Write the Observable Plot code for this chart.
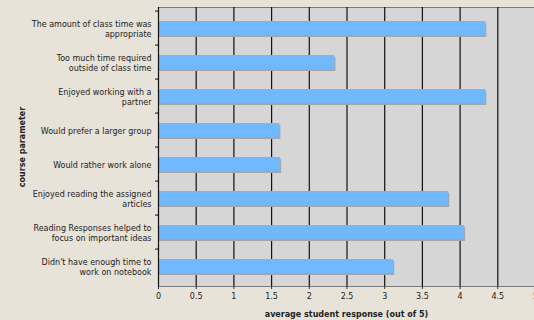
<!DOCTYPE html>
<html><head><meta charset="utf-8">
<script src="https://cdn.jsdelivr.net/npm/d3@7"></script>
<script src="https://cdn.jsdelivr.net/npm/@observablehq/plot@0.6"></script>
<style>html,body{margin:0;padding:0;background:#e8e3d9;overflow:hidden}#chart svg{display:block}</style>
</head><body><div id="chart"></div>
<script>
const categories = [
  "The amount of class time was\nappropriate",
  "Too much time required\noutside of class time",
  "Enjoyed working with a\npartner",
  "Would prefer a larger group",
  "Would rather work alone",
  "Enjoyed reading the assigned\narticles",
  "Reading Responses helped to\nfocus on important ideas",
  "Didn't have enough time to\nwork on notebook"
];
const values = [4.34, 2.34, 4.34, 1.61, 1.62, 3.85, 4.06, 3.12];
const xTicks = [0, 0.5, 1, 1.5, 2, 2.5, 3, 3.5, 4, 4.5, 5];
const xLabel = "average student response (out of 5)";
const yLabel = "course parameter";

const data = categories.map((c, i) => ({category: c, value: values[i]}));
const W = 534, H = 320, mL = 158, mT = 7, mB = 34;
const step = (H - mT - mB) / categories.length;

const chart = Plot.plot({
  width: W, height: H, marginLeft: mL, marginRight: 0, marginTop: mT, marginBottom: mB,
  style: {fontFamily: "DejaVu Sans", fontSize: "8px", color: "#222", background: "transparent", overflow: "visible"},
  x: {domain: [0, 5], range: [mL, W + 1]},
  y: {domain: categories, paddingInner: 0.6, paddingOuter: 0.3},
  marks: [
    Plot.frame({fill: "#d6d6d6", stroke: "#7a7a7a"}),
    Plot.gridX(xTicks.slice(1), {stroke: "#111", strokeOpacity: 1, strokeWidth: 1.2}),
    Plot.barX(data, {y: "category", x: "value", fill: "#a6a6a6", dx: 1, dy: 2}),
    Plot.barX(data, {y: "category", x: "value", fill: "#72b8ff"}),
    Plot.ruleX([0], {stroke: "#111", strokeWidth: 1.2}),
    Plot.axisX(xTicks, {tickSize: 3, tickPadding: 4, label: null, stroke: "#333", tickFormat: d => String(d)}),
    Plot.axisY({tickSize: 0, tickPadding: 7, label: null, lineHeight: 1.25}),
    Plot.axisY({tickSize: 3, dy: -step / 2, tickFormat: () => "", label: null, stroke: "#111"}),
    Plot.text([xLabel], {frameAnchor: "bottom", lineAnchor: "bottom", dy: 30, fontWeight: "bold"}),
    Plot.text([yLabel], {frameAnchor: "left", textAnchor: "middle", lineAnchor: "middle", rotate: -90, dx: -136, fontWeight: "bold"})
  ]
});
document.getElementById("chart").append(chart);
</script>
</body></html>
